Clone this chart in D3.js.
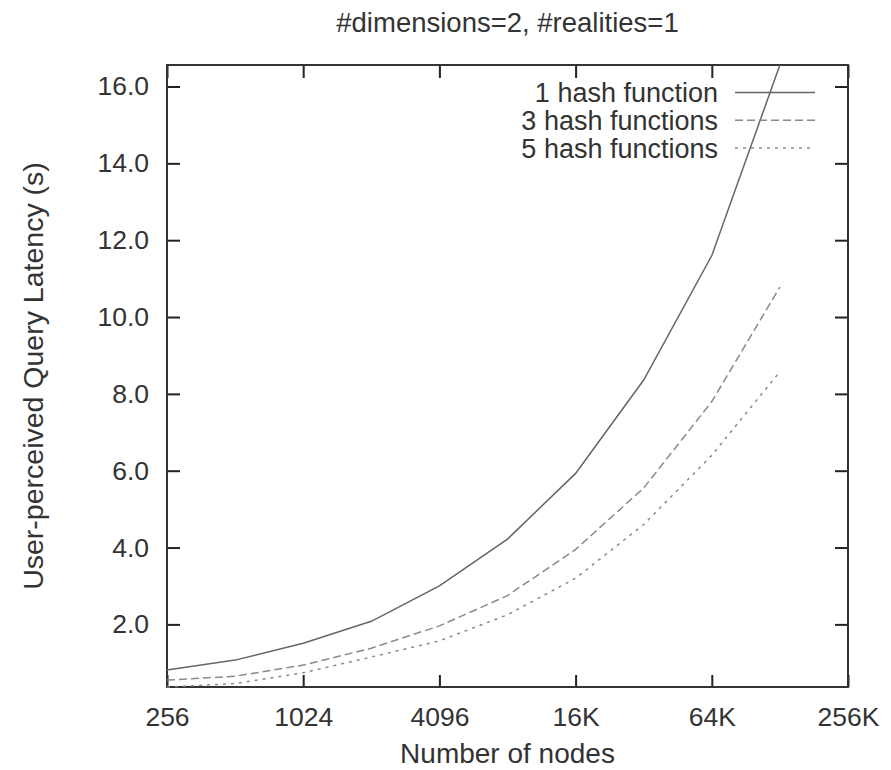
<!DOCTYPE html>
<html>
<head>
<meta charset="utf-8">
<script src="https://cdn.jsdelivr.net/npm/d3@7"></script>
<style>
  body { margin: 0; background: #fff; }
  text { font-family: "Liberation Sans", Arial, Helvetica, sans-serif; fill: #333; }
</style>
</head>
<body>
<div id="chart"></div>
<script>
// data
var nodes = [256, 512, 1024, 2048, 4096, 8192, 16384, 32768, 65536, 131072];
var oneHash   = [0.81, 1.07, 1.51, 2.08, 3.00, 4.22, 5.93, 8.36, 11.60, 16.56];
var threeHash = [0.55, 0.65, 0.94, 1.38, 1.96, 2.75, 3.95, 5.55, 7.80, 10.78];
var fiveHash  = [0.37, 0.46, 0.74, 1.15, 1.57, 2.25, 3.20, 4.60, 6.40, 8.58];
var seriesNames = ["1 hash function", "3 hash functions", "5 hash functions"];

var xTickValues = [256, 1024, 4096, 16384, 65536, 262144];
var xTickLabels = ["256", "1024", "4096", "16K", "64K", "256K"];
var yTickValues = [2, 4, 6, 8, 10, 12, 14, 16];

var titleText = "#dimensions=2, #realities=1";
var xLabel = "Number of nodes";
var yLabel = "User-perceived Query Latency (s)";

// dimensions
var svgWidth = 891;
var svgHeight = 770;
var margin = { top: 65, right: 43, bottom: 83, left: 167 };
var width = svgWidth - margin.left - margin.right;
var height = svgHeight - margin.top - margin.bottom;

var svg = d3.select("#chart")
    .append("svg")
    .attr("width", svgWidth)
    .attr("height", svgHeight);

var g = svg.append("g")
    .attr("transform", "translate(" + margin.left + "," + margin.top + ")");

// scales
var x = d3.scaleLog().base(2)
    .domain([256, 262144])
    .range([0, width]);

var allValues = oneHash.concat(threeHash, fiveHash);
var y = d3.scaleLinear()
    .domain(d3.extent(allValues))
    .range([height, 0]);

// axes (ticks point inward, mirrored on top and right)
var fmtY = d3.format(".1f");

var xAxis = d3.axisBottom(x)
    .tickValues(xTickValues)
    .tickFormat(function (d, i) { return xTickLabels[i]; })
    .tickSizeInner(-12).tickSizeOuter(0).tickPadding(20);

var xTop = d3.axisTop(x)
    .tickValues(xTickValues)
    .tickFormat("")
    .tickSizeInner(-13).tickSizeOuter(0);

var yAxis = d3.axisLeft(y)
    .tickValues(yTickValues)
    .tickFormat(fmtY)
    .tickSizeInner(-13).tickSizeOuter(0).tickPadding(18);

var yRight = d3.axisRight(y)
    .tickValues(yTickValues)
    .tickFormat("")
    .tickSizeInner(-13).tickSizeOuter(0);

function styleAxis(sel) {
    sel.select(".domain").remove();
    sel.selectAll(".tick line").attr("stroke", "#222").attr("stroke-width", 2);
    sel.selectAll(".tick text")
        .style("font-family", "'Liberation Sans', Arial, sans-serif")
        .style("font-size", "26.5px")
        .attr("fill", "#333");
}

g.append("g").attr("transform", "translate(0," + height + ")").call(xAxis).call(styleAxis);
g.append("g").call(xTop).call(styleAxis);
g.append("g").call(yAxis).call(styleAxis);
g.append("g").attr("transform", "translate(" + width + ",0)").call(yRight).call(styleAxis);

// frame
g.append("rect")
    .attr("width", width)
    .attr("height", height)
    .attr("fill", "none")
    .attr("stroke", "#333")
    .attr("stroke-width", 2);

// lines
var series = [
    { name: seriesNames[0], values: oneHash, color: "#666", dash: null },
    { name: seriesNames[1], values: threeHash, color: "#8a8a8a", dash: "8,4" },
    { name: seriesNames[2], values: fiveHash, color: "#8a8a8a", dash: "3,5" }
];

var line = d3.line()
    .x(function (d, i) { return x(nodes[i]); })
    .y(function (d) { return y(d); });

g.selectAll(".series")
    .data(series)
    .enter()
    .append("path")
    .attr("class", "series")
    .attr("d", function (s) { return line(s.values); })
    .attr("fill", "none")
    .attr("stroke", function (s) { return s.color; })
    .attr("stroke-width", 1.5)
    .attr("stroke-dasharray", function (s) { return s.dash; });

// legend
var legend = svg.append("g").attr("transform", "translate(718,92.5)");
var rows = legend.selectAll(".row")
    .data(series)
    .enter()
    .append("g")
    .attr("transform", function (d, i) { return "translate(0," + (i * 27.8) + ")"; });

rows.append("text")
    .attr("text-anchor", "end")
    .attr("dy", "0.35em")
    .style("font-size", "27px")
    .text(function (d) { return d.name; });

rows.append("line")
    .attr("x1", 17).attr("x2", 97)
    .attr("stroke", function (d) { return d.color; })
    .attr("stroke-width", 1.5)
    .attr("stroke-dasharray", function (d) { return d.dash; });

// title and axis labels
svg.append("text")
    .attr("x", margin.left + width / 2)
    .attr("y", 32)
    .attr("text-anchor", "middle")
    .style("font-size", "27.5px")
    .text(titleText);

svg.append("text")
    .attr("x", margin.left + width / 2)
    .attr("y", 763)
    .attr("text-anchor", "middle")
    .style("font-size", "28px")
    .text(xLabel);

svg.append("text")
    .attr("transform", "translate(43," + (margin.top + height / 2) + ") rotate(-90)")
    .attr("text-anchor", "middle")
    .style("font-size", "28.5px")
    .text(yLabel);
</script>
</body>
</html>
